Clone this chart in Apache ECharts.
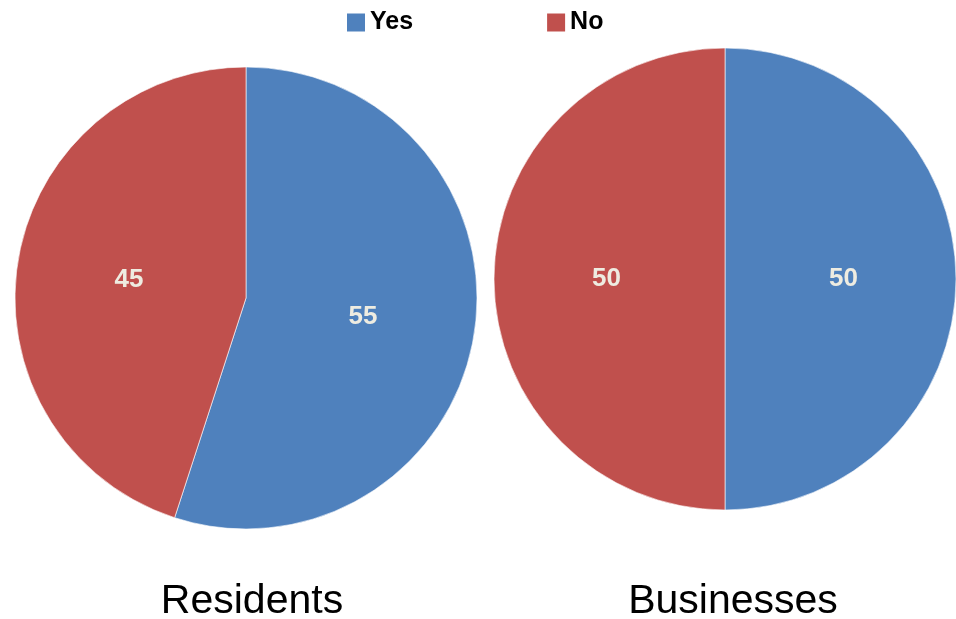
<!DOCTYPE html>
<html>
<head>
<meta charset="utf-8">
<script src="https://cdn.jsdelivr.net/npm/echarts@6/dist/echarts.min.js"></script>
<style>html,body{margin:0;padding:0;background:#fff}#c{width:956px;height:619px}</style>
</head>
<body>
<div id="c"></div>
<script>
const categories = ['Yes', 'No'];
const residents = [55, 45];
const businesses = [50, 50];
const pieTitles = ['Residents', 'Businesses'];
const colors = ['#4F81BD', '#C0504D'];

const chart = echarts.init(document.getElementById('c'));
function makeData(vals) {
  return categories.map((c, i) => ({ name: c, value: vals[i] }));
}
const labelStyle = {
  show: true,
  position: 'inside',
  formatter: '{c}',
  color: '#EEECE1',
  fontFamily: 'Liberation Sans',
  fontWeight: 'bold',
  fontSize: 26
};
const titleStyle = { fontFamily: 'Liberation Sans', fontWeight: 'normal', fontSize: 41, color: '#000' };
chart.setOption({
  animation: false,
  color: colors,
  legend: {
    data: categories,
    left: 347,
    top: 10,
    padding: 0,
    itemWidth: 18,
    itemHeight: 18,
    itemGap: 134,
    icon: 'rect',
    itemStyle: { borderWidth: 0 },
    textStyle: { fontFamily: 'Liberation Sans', fontWeight: 'bold', fontSize: 25, color: '#000' }
  },
  title: [
    { text: pieTitles[0], left: 252, top: 581, textAlign: 'center', padding: 0, textStyle: titleStyle },
    { text: pieTitles[1], left: 733, top: 581, textAlign: 'center', padding: 0, textStyle: titleStyle }
  ],
  series: [
    {
      type: 'pie', center: [246, 298], radius: 231, startAngle: 90, clockwise: true,
      data: makeData(residents), label: labelStyle, labelLine: { show: false },
      itemStyle: { borderColor: '#ffffff', borderWidth: 0.6 },
      emphasis: { disabled: true }
    },
    {
      type: 'pie', center: [725, 279], radius: 231, startAngle: 90, clockwise: true,
      data: makeData(businesses), label: labelStyle, labelLine: { show: false },
      itemStyle: { borderColor: '#ffffff', borderWidth: 0.6 },
      emphasis: { disabled: true }
    }
  ]
});
</script>
</body>
</html>
